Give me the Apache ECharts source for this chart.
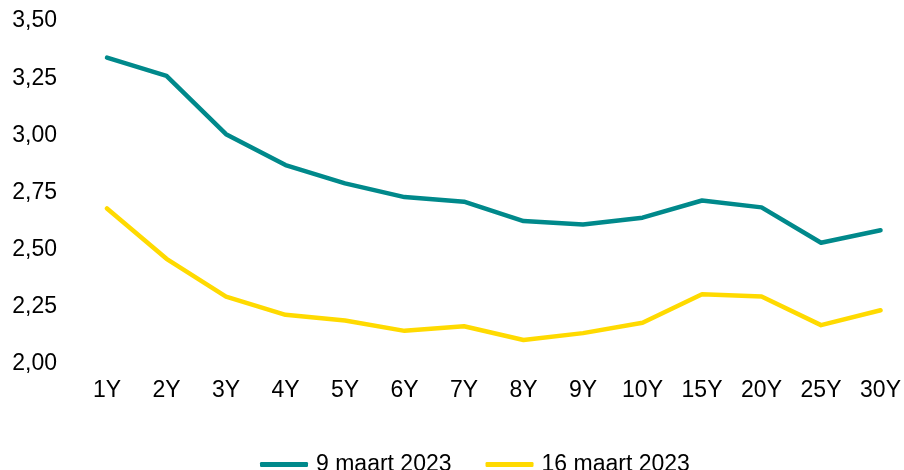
<!DOCTYPE html>
<html>
<head>
<meta charset="utf-8">
<script src="https://cdn.jsdelivr.net/npm/echarts@6/dist/echarts.min.js"></script>
<style>html,body{margin:0;padding:0;background:#fff;}#c{width:904px;height:470px;}</style>
</head>
<body>
<div id="c"></div>
<script>
const categories = ['1Y','2Y','3Y','4Y','5Y','6Y','7Y','8Y','9Y','10Y','15Y','20Y','25Y','30Y'];
const march9 = [3.34, 3.26, 3.005, 2.87, 2.79, 2.73, 2.71, 2.625, 2.61, 2.64, 2.715, 2.685, 2.53, 2.585];
const march16 = [2.68, 2.46, 2.295, 2.215, 2.19, 2.145, 2.165, 2.105, 2.135, 2.18, 2.305, 2.295, 2.17, 2.235];
const seriesNames = ['9 maart 2023', '16 maart 2023'];

const chart = echarts.init(document.getElementById('c'));
const font = 'Liberation Sans, Arial, sans-serif';
chart.setOption({
  animation: false,
  backgroundColor: '#fff',
  grid: { left: 107, right: 23, top: 21, bottom: 106, containLabel: false },
  legend: {
    data: seriesNames,
    top: 448,
    left: 255,
    itemWidth: 48,
    itemHeight: 5,
    itemGap: 34,
    icon: 'roundRect',
    textStyle: { fontFamily: font, fontSize: 23, color: '#000', padding: [0, 0, 0, 3] }
  },
  xAxis: {
    type: 'category',
    data: categories,
    boundaryGap: false,
    axisLine: { show: false },
    axisTick: { show: false },
    axisLabel: { fontFamily: font, fontSize: 23, color: '#000', margin: 15 }
  },
  yAxis: {
    type: 'value',
    min: 2.0,
    max: 3.5,
    interval: 0.25,
    splitLine: { show: false },
    axisLine: { show: false },
    axisTick: { show: false },
    axisLabel: {
      fontFamily: font, fontSize: 23, color: '#000', margin: 50,
      formatter: v => v.toFixed(2).replace('.', ',')
    }
  },
  series: [
    { name: seriesNames[0], type: 'line', data: march9, symbol: 'none',
      lineStyle: { width: 4.5, color: '#00898B', cap: 'round', join: 'round' }, itemStyle: { color: '#00898B' } },
    { name: seriesNames[1], type: 'line', data: march16, symbol: 'none',
      lineStyle: { width: 4.5, color: '#FFDA00', cap: 'round', join: 'round' }, itemStyle: { color: '#FFDA00' } }
  ]
});
</script>
</body>
</html>
